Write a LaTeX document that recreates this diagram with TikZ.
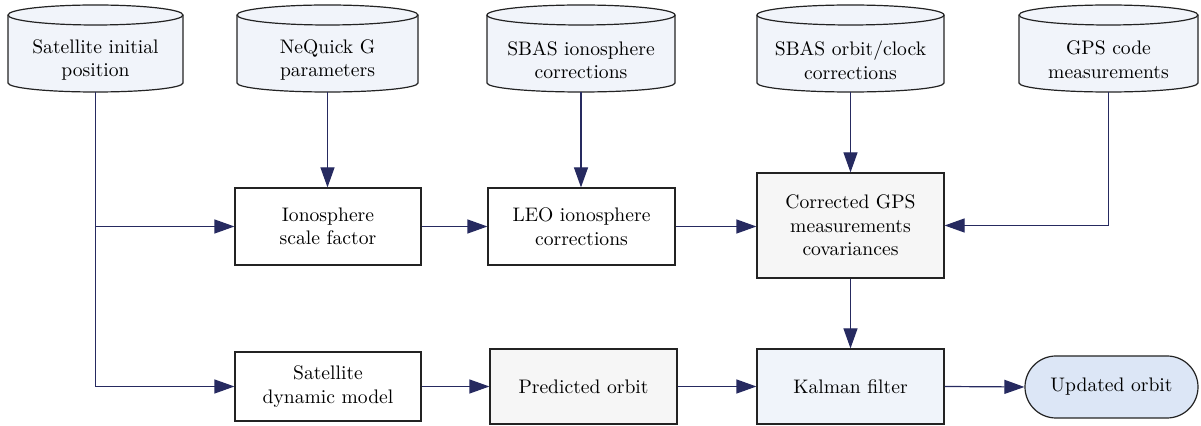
\documentclass[tikz,border=0pt]{standalone}
\usetikzlibrary{arrows.meta,shapes.misc,backgrounds}
\definecolor{arrcol}{RGB}{38,42,96}
\definecolor{edgecol}{RGB}{35,35,35}
\definecolor{drumfill}{RGB}{241,244,250}
\definecolor{grayfill}{RGB}{246,246,246}
\definecolor{kalfill}{RGB}{240,244,250}
\definecolor{updfill}{RGB}{220,230,246}
\tikzset{
  txt/.style={font=\fontsize{9.8}{11.8}\selectfont, align=center, inner sep=0pt},
  boxnode/.style={txt, draw=edgecol, line width=0.6pt, rectangle},
  drumedge/.style={draw=edgecol, line width=0.6pt, fill=drumfill},
  arr/.style={draw=arrcol, line width=0.6pt, -{Triangle[length=10pt,width=7pt]}},
}
% #1 node name, #2 half width
\newcommand{\drumshape}[2]{%
  \path[drumedge] ([shift={(-#2,22.5pt)}]#1.center) -- ([shift={(-#2,-11.5pt)}]#1.center)
    arc[start angle=180,end angle=360,x radius=#2,y radius=4.5pt]
    -- ([shift={(#2,22.5pt)}]#1.center)
    arc[start angle=0,end angle=180,x radius=#2,y radius=5pt] -- cycle;
  \draw[draw=edgecol, line width=0.6pt] ([shift={(-#2,22.5pt)}]#1.center)
    arc[start angle=180,end angle=360,x radius=#2,y radius=5pt];
}
\begin{document}
\begin{tikzpicture}[x=0.5pt,y=-0.5pt]
\useasboundingbox (0,0) rectangle (1201,426);
% top data sources
\node[txt] (b1) at (95.5,60) {Satellite initial\\position};
\node[txt] (b2) at (327.5,60) {NeQuick G\\parameters};
\node[txt] (b3) at (581,60) {SBAS ionosphere\\corrections};
\node[txt] (b4) at (850.5,60) {SBAS orbit/clock\\corrections};
\node[txt] (b5) at (1108.5,60) {GPS code\\measurements};
\begin{scope}[on background layer]
  \drumshape{b1}{43.75pt}
  \drumshape{b2}{45.25pt}
  \drumshape{b3}{47pt}
  \drumshape{b4}{46.75pt}
  \drumshape{b5}{44.75pt}
\end{scope}
% middle row
\node[boxnode, fill=white, minimum width=93pt, minimum height=38.5pt] (isf) at (328,226.5) {Ionosphere\\scale factor};
\node[boxnode, fill=white, minimum width=93.5pt, minimum height=38.5pt] (leo) at (581.5,226.5) {LEO ionosphere\\corrections};
\node[boxnode, fill=grayfill, minimum width=93.5pt, minimum height=52.5pt] (cgps) at (850.5,225.5) {Corrected GPS\\measurements\\covariances};
% bottom row
\node[boxnode, fill=white, minimum width=93pt, minimum height=34.5pt] (sdm) at (328,386.5) {Satellite\\dynamic model};
\node[boxnode, fill=grayfill, minimum width=93.5pt, minimum height=37.5pt] (pred) at (583.5,386.5) {Predicted orbit};
\node[boxnode, fill=kalfill, minimum width=93.5pt, minimum height=37.5pt] (kal) at (850.5,386.5) {Kalman filter};
\node[boxnode, rounded rectangle, fill=updfill, minimum width=86.5pt, minimum height=31pt] (upd) at (1111.5,387) {Updated orbit};
% connectors
\draw[arr] ([yshift=-16pt]b1.center) |- (sdm.west);
\draw[arr] (b1.center |- isf.west) -- (isf.west);
\draw[arr] ([yshift=-16pt]b2.center) -- (b2.center |- isf.north);
\draw[arr] ([yshift=-16pt]b3.center) -- (b3.center |- leo.north);
\draw[arr] ([yshift=-16pt]b4.center) -- (b4.center |- cgps.north);
\draw[arr] ([yshift=-16pt]b5.center) |- (cgps.east);
\draw[arr] (isf.east) -- (leo.west);
\draw[arr] (leo.east) -- (cgps.west |- leo.east);
\draw[arr] (cgps.south) -- (kal.north);
\draw[arr] (sdm.east) -- (pred.west);
\draw[arr] (pred.east) -- (kal.west);
\draw[arr] (kal.east) -- (upd.west);
\end{tikzpicture}
\end{document}
